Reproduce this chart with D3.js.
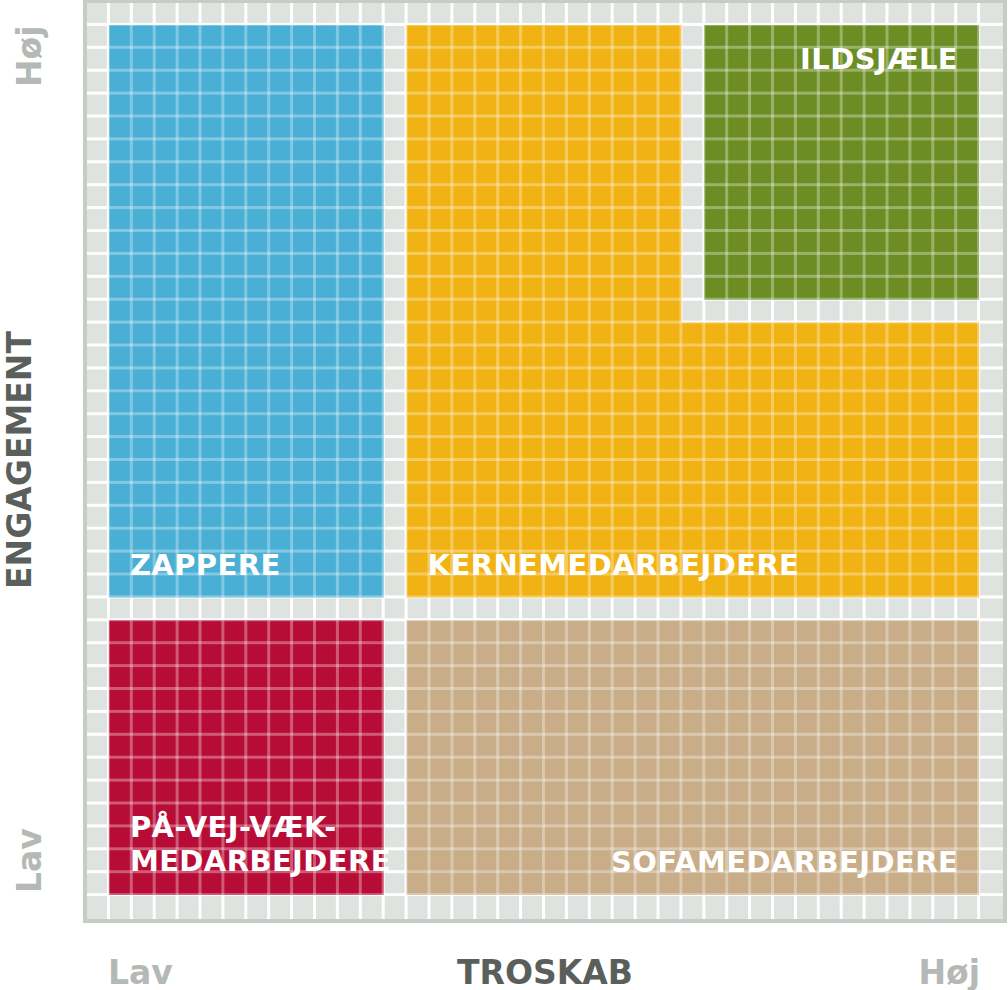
<!DOCTYPE html>
<html>
<head>
<meta charset="utf-8">
<script src="https://cdn.jsdelivr.net/npm/d3@7"></script>
<style>
  body { margin: 0; background: #fff; }
  text { font-family: "DejaVu Sans", Verdana, sans-serif; font-weight: bold; }
</style>
</head>
<body>
<div id="chart"></div>
<script>
// segmenter: navn, farve og celleomraader [c0, c1, r0, r1) i et 40x40 gitter
var segments = ["ZAPPERE", "KERNEMEDARBEJDERE", "ILDSJÆLE", "PÅ-VEJ-VÆK-MEDARBEJDERE", "SOFAMEDARBEJDERE"];
var segmentColors = ["#49afd5", "#f1b214", "#6b8d23", "#b70c36", "#c8ad88"];
var segmentCells = [
  [[1, 13, 1, 26]],
  [[14, 26, 1, 26], [26, 39, 14, 26]],
  [[27, 39, 1, 13]],
  [[1, 13, 27, 39]],
  [[14, 39, 27, 39]]
];
var segmentLines = [["ZAPPERE"], ["KERNEMEDARBEJDERE"], ["ILDSJÆLE"], ["PÅ-VEJ-VÆK-", "MEDARBEJDERE"], ["SOFAMEDARBEJDERE"]];
var gridSize = 40;
var xTitle = "TROSKAB", yTitle = "ENGAGEMENT";
var lowHigh = ["Lav", "Høj"];

var width = 1008, height = 990;
var svg = d3.select("#chart").append("svg")
  .attr("width", width)
  .attr("height", height);

var x = d3.scaleLinear().domain([0, gridSize]).range([87, 1003]);
var y = d3.scaleLinear().domain([0, gridSize]).range([3, 919]);
var bounds = d3.range(1, gridSize);

// ramme og graa baggrund
svg.append("rect")
  .attr("x", x(0) - 2).attr("y", y(0) - 2)
  .attr("width", x(gridSize) - x(0) + 4).attr("height", y(gridSize) - y(0) + 4)
  .attr("fill", "#dee3e0")
  .attr("stroke", "#c6cdc7")
  .attr("stroke-width", 4);

var grid = svg.append("g");
grid.selectAll(".vl").data(bounds).enter().append("rect")
  .attr("x", function(d) { return x(d) - 3; })
  .attr("y", y(0))
  .attr("width", 3)
  .attr("height", y(gridSize) - y(0))
  .attr("fill", "#fff");
grid.selectAll(".hl").data(bounds).enter().append("rect")
  .attr("x", x(0))
  .attr("y", function(d) { return y(d) - 3; })
  .attr("width", x(gridSize) - x(0))
  .attr("height", 3)
  .attr("fill", "#fff");

// farvede felter, klippet til hvert segment
var defs = svg.append("defs");
segmentCells.forEach(function(list, i) {
  var clip = defs.append("clipPath").attr("id", "seg" + i);
  clip.selectAll("rect").data(list).enter().append("rect")
    .attr("x", function(b) { return x(b[0]) - 1; })
    .attr("y", function(b) { return y(b[2]) - 1; })
    .attr("width", function(b) { return x(b[1]) - x(b[0]); })
    .attr("height", function(b) { return y(b[3]) - y(b[2]); });

  var c0 = d3.min(list, function(b) { return b[0]; }), c1 = d3.max(list, function(b) { return b[1]; });
  var r0 = d3.min(list, function(b) { return b[2]; }), r1 = d3.max(list, function(b) { return b[3]; });
  var g = svg.append("g").attr("clip-path", "url(#seg" + i + ")");
  g.append("rect")
    .attr("x", x(c0) - 3).attr("y", y(r0) - 3)
    .attr("width", x(c1) - x(c0) + 3).attr("height", y(r1) - y(r0) + 3)
    .attr("fill", segmentColors[i]);
  var over = g.append("g").attr("fill", "#fff").attr("fill-opacity", 0.32);
  over.selectAll(".v").data(d3.range(c0, c1 + 1)).enter().append("rect")
    .attr("x", function(c) { return x(c) - 3; })
    .attr("y", y(r0) - 3)
    .attr("width", 3)
    .attr("height", y(r1) - y(r0) + 3);
  over.selectAll(".h").data(d3.range(r0, r1 + 1)).enter().append("rect")
    .attr("x", x(c0) - 3)
    .attr("y", function(r) { return y(r) - 3; })
    .attr("width", x(c1) - x(c0) + 3)
    .attr("height", 3);
});

// etiketter
var labelPos = [
  { x: x(1) + 20, y: y(25) - 1, anchor: "start" },
  { x: x(14) + 20, y: y(25) - 1, anchor: "start" },
  { x: x(39) - 22, y: 69, anchor: "end" },
  { x: x(1) + 20, y: 837, anchor: "start" },
  { x: x(39) - 22, y: 872, anchor: "end" }
];
var labels = svg.append("g").selectAll("text").data(segments).enter().append("text")
  .attr("x", function(d, i) { return labelPos[i].x; })
  .attr("y", function(d, i) { return labelPos[i].y; })
  .attr("text-anchor", function(d, i) { return labelPos[i].anchor; })
  .attr("fill", "#fff")
  .attr("font-size", 29)
  .attr("letter-spacing", 0.4);
labels.each(function(d, i) {
  var t = d3.select(this);
  segmentLines[i].forEach(function(line, k) {
    t.append("tspan").attr("x", labelPos[i].x).attr("dy", k === 0 ? 0 : 34).text(line);
  });
});

// aksetitler
svg.append("text")
  .attr("x", (x(0) + x(gridSize)) / 2)
  .attr("y", 984)
  .attr("text-anchor", "middle")
  .attr("font-size", 33)
  .attr("fill", "#5a5f5c")
  .text(xTitle);
svg.append("text")
  .attr("transform", "translate(31," + 460 + ") rotate(-90)")
  .attr("text-anchor", "middle")
  .attr("font-size", 33)
  .attr("fill", "#5a5f5c")
  .text(yTitle);

svg.append("text").attr("x", 108).attr("y", 984).attr("font-size", 33)
  .attr("fill", "#b4b9b6").text(lowHigh[0]);
svg.append("text").attr("x", 980).attr("y", 984).attr("text-anchor", "end").attr("font-size", 33)
  .attr("fill", "#b4b9b6").text(lowHigh[1]);
svg.append("text").attr("transform", "translate(41,893) rotate(-90)").attr("font-size", 33)
  .attr("fill", "#b4b9b6").text(lowHigh[0]);
svg.append("text").attr("transform", "translate(41,87) rotate(-90)").attr("font-size", 33)
  .attr("fill", "#b4b9b6").text(lowHigh[1]);
</script>
</body>
</html>
